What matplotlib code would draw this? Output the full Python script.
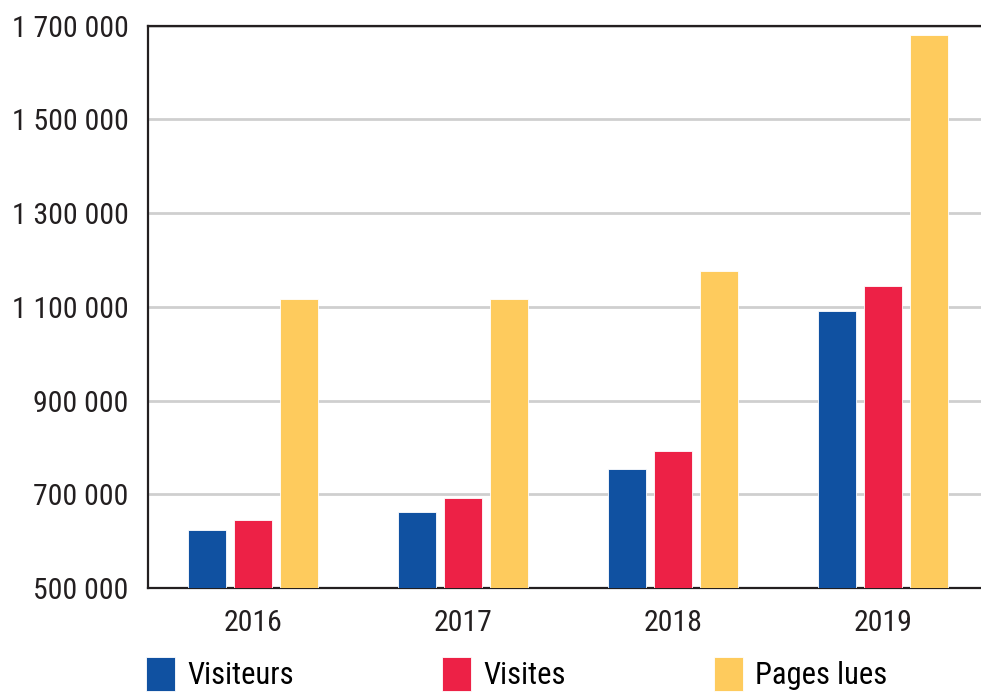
import matplotlib
matplotlib.use("Agg")
import matplotlib.pyplot as plt
import numpy as np

years = ["2016", "2017", "2018", "2019"]
visiteurs = [624000, 663000, 753000, 1092000]
visites = [646000, 692000, 792000, 1145000]
pages_lues = [1116000, 1116000, 1177000, 1680000]
series_names = ["Visiteurs", "Visites", "Pages lues"]
colors = ["#1051A1", "#ED2146", "#FECB5D"]
y_ticks = [500000, 700000, 900000, 1100000, 1300000, 1500000, 1700000]

plt.rcParams["font.family"] = ["Roboto Condensed", "Liberation Sans Narrow", "Roboto", "DejaVu Sans"]

fig = plt.figure(figsize=(9.81, 6.95), dpi=100)
ax = fig.add_axes([0.151, 0.154, 0.849, 0.809])

x = np.arange(len(years))
width = 0.18
offsets = [-0.219, 0.0, 0.219]
for vals, off, col, name in zip([visiteurs, visites, pages_lues], offsets, colors, series_names):
    ax.bar(x + off, vals, width, bottom=0, color=col, edgecolor="white",
           linewidth=0.6, label=name, zorder=3)

ax.set_ylim(500000, 1700000)
ax.set_xlim(-0.5, 3.467)
ax.set_yticks(y_ticks)
ax.set_yticklabels(["{:,}".format(v).replace(",", " ") for v in y_ticks])
ax.set_xticks(x)
ax.set_xticklabels(years)
ax.tick_params(axis="both", length=0, labelsize=21.5, colors="#231f20")
ax.tick_params(axis="y", pad=14)
ax.tick_params(axis="x", pad=15)

ax.grid(axis="y", color="#cfcfcf", linewidth=2, zorder=0)
ax.set_axisbelow(True)
for side in ["left", "bottom", "top"]:
    ax.spines[side].set_linewidth(1.6)
    ax.spines[side].set_color("#231f20")
ax.spines["right"].set_visible(False)

fig.legend(loc="lower left", bbox_to_anchor=(0.136, -0.012), ncol=3, frameon=False,
           fontsize=22, handlelength=0.95, handleheight=1.35, handletextpad=0.4,
           columnspacing=4.85, borderaxespad=0)

fig.savefig("out.png", dpi=100)
